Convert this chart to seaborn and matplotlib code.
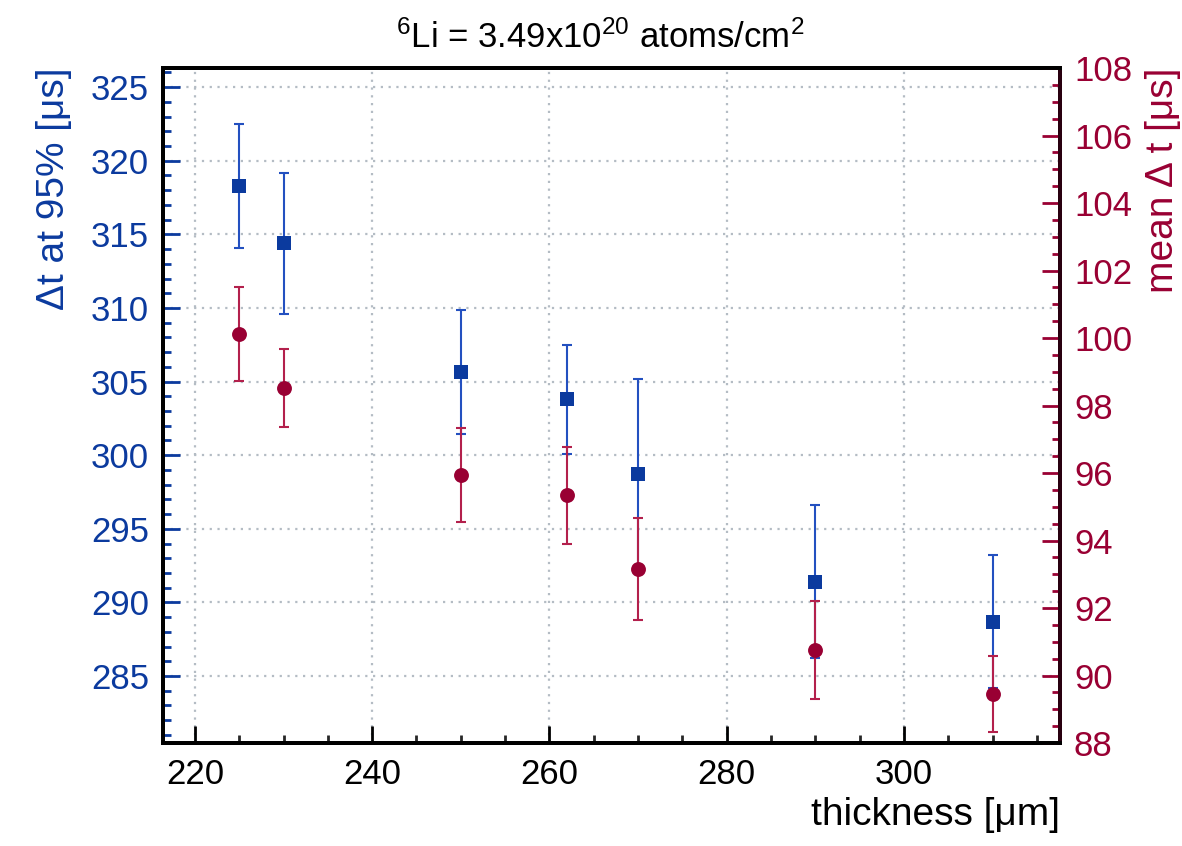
import matplotlib
matplotlib.use("Agg")
import matplotlib.pyplot as plt
import numpy as np
import pandas as pd
import seaborn as sns
from matplotlib.ticker import MultipleLocator

# data
thickness = [225, 230, 250, 262, 270, 290, 310]
dt95 = [318.3, 314.4, 305.65, 303.8, 298.7, 291.4, 288.7]
dt95_err = [4.2, 4.8, 4.2, 3.7, 6.5, 5.2, 4.5]
mean_dt = [100.12, 98.52, 95.95, 95.34, 93.16, 90.76, 89.45]
mean_dt_err = [1.38, 1.16, 1.39, 1.44, 1.52, 1.45, 1.12]

df = pd.DataFrame(dict(thickness=thickness, dt95=dt95, dt95_err=dt95_err,
                       mean_dt=mean_dt, mean_dt_err=mean_dt_err))

blue = "#0b3a9e"
blue_bar = "#2350c0"
red = "#990033"
red_bar = "#b3204c"

sns.set_style("ticks")
plt.rcParams["font.family"] = ["Liberation Sans", "DejaVu Sans"]
plt.rcParams["mathtext.fontset"] = "custom"
plt.rcParams["mathtext.rm"] = "Liberation Sans"
plt.rcParams["mathtext.it"] = "Liberation Sans"
plt.rcParams["text.color"] = "black"
plt.rcParams["axes.labelcolor"] = "black"

fig = plt.figure(figsize=(11.82, 8.46), dpi=100)
ax = fig.add_axes([163 / 1182, 103 / 846, 897 / 1182, 675 / 846])
ax2 = ax.twinx()

# left axis: delta t at 95%
ax.errorbar(df.thickness, df.dt95, yerr=df.dt95_err, fmt="none",
            ecolor=blue_bar, elinewidth=1.5, capsize=3.5, capthick=1.5, zorder=2)
sns.scatterplot(data=df, x="thickness", y="dt95", ax=ax, marker="s", s=110,
                color=blue, edgecolor=blue, linewidth=0, zorder=3)

# right axis: mean delta t
ax2.errorbar(df.thickness, df.mean_dt, yerr=df.mean_dt_err, fmt="none",
             ecolor=red_bar, elinewidth=1.5, capsize=3.5, capthick=1.5, zorder=2)
sns.scatterplot(data=df, x="thickness", y="mean_dt", ax=ax2, marker="o", s=115,
                color=red, edgecolor=red, linewidth=0, zorder=3)

ax.set_xlim(216.4, 317.6)
ax.set_ylim(280.45, 326.3)
ax2.set_ylim(88, 108)

ax.xaxis.set_major_locator(MultipleLocator(20))
ax.xaxis.set_minor_locator(MultipleLocator(5))
ax.yaxis.set_major_locator(MultipleLocator(5))
ax.yaxis.set_minor_locator(MultipleLocator(1))
ax2.yaxis.set_major_locator(MultipleLocator(2))
ax2.yaxis.set_minor_locator(MultipleLocator(0.5))

ax.grid(True, which="major", color="#b4bcc4", linestyle=(0, (1, 2.5)), linewidth=1.6)
ax.set_axisbelow(True)

fs = 25
ax.tick_params(axis="x", which="major", direction="in", length=12, width=2,
               labelsize=fs, pad=11, color="black", labelcolor="black", top=False)
ax.tick_params(axis="x", which="minor", direction="in", length=6, width=2,
               top=False)
ax.tick_params(axis="y", which="major", direction="in", length=12, width=2,
               labelsize=fs, pad=10, color=blue, labelcolor=blue)
ax.tick_params(axis="y", which="minor", direction="in", length=6, width=2,
               color=blue)
ax2.tick_params(axis="y", which="major", direction="in", length=13, width=2,
                labelsize=fs, pad=10, color=red, labelcolor=red)
ax2.tick_params(axis="y", which="minor", direction="in", length=6, width=2,
                color=red)

for a in (ax, ax2):
    for sp in a.spines.values():
        sp.set_linewidth(2.8)
        sp.set_color("black")
ax2.spines["right"].set_color("#2a0010")

ax.set_xlabel("thickness [μm]", fontsize=28, color="black", loc="right")
ax.xaxis.set_label_coords(1.0, -0.08)
ax.set_ylabel("Δt at 95% [μs]", fontsize=28, color=blue, loc="top")
ax.yaxis.set_label_coords(-0.101, 1.0)
ax2.set_ylabel("mean Δ t [μs]", fontsize=28, color=red, loc="top")
ax2.yaxis.set_label_coords(1.095, 1.0)

fig.text(0.508, 0.956, r"$^{6}$Li = 3.49x10$^{20}$ atoms/cm$^{2}$",
         fontsize=25, ha="center", va="center")

fig.savefig("out.png", dpi=100)
